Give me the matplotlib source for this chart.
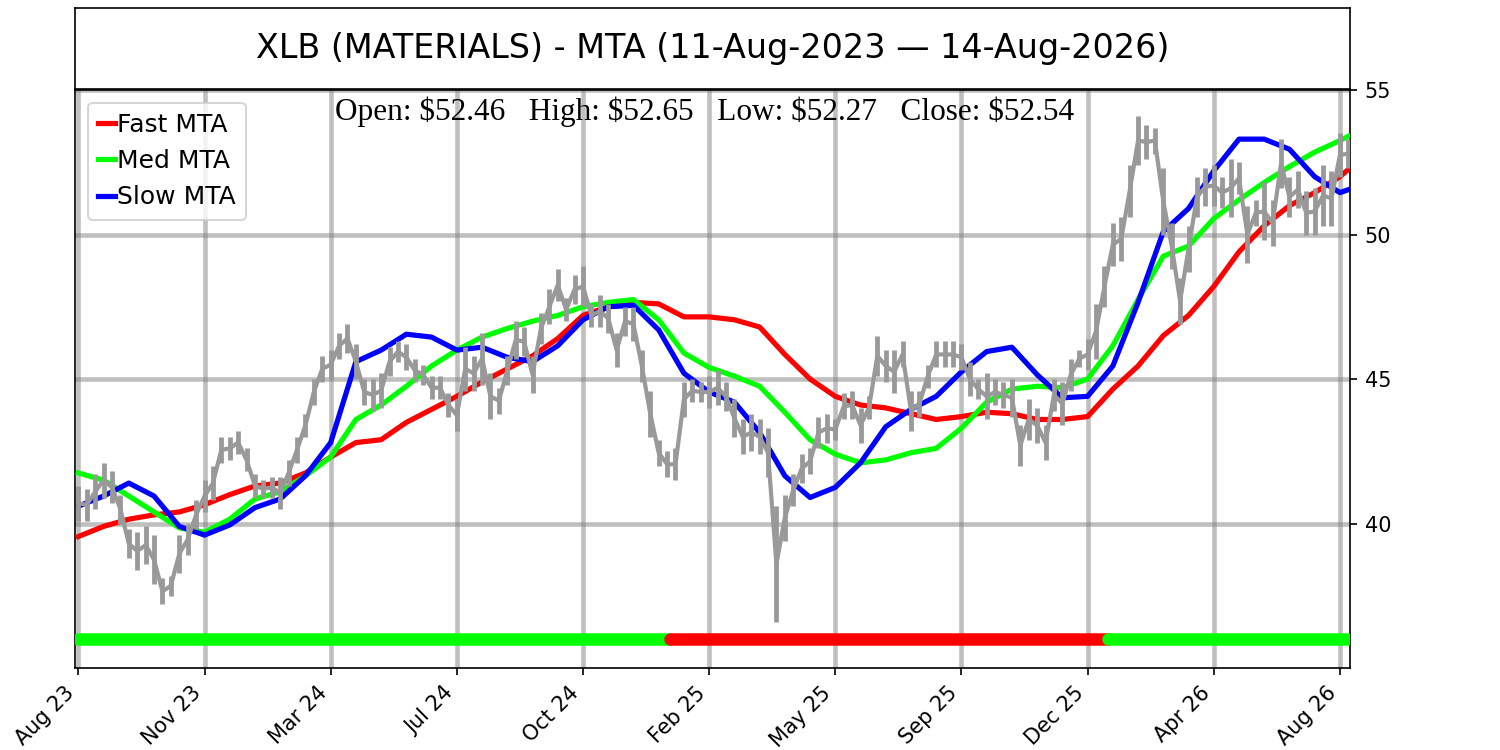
import numpy as np
import matplotlib.pyplot as plt

# weekly high / low of XLB (one value every 5 trading days)
week_high = [41.3, 41.2, 41.7, 42.1, 41.8, 41.0, 39.8, 39.7, 39.9, 39.6,
             38.1, 38.2, 39.6, 40.0, 40.8, 41.5, 42.0, 43.0, 43.0, 43.2,
             42.6, 41.7, 41.5, 41.6, 41.6, 42.2, 43.0, 43.8, 45.0, 45.8,
             46.0, 46.6, 46.9, 46.2, 45.0, 45.0, 45.2, 46.1, 46.3, 46.2,
             45.7, 45.5, 45.1, 45.1, 44.5, 44.3, 46.1, 45.8, 46.6, 45.2,
             44.7, 45.8, 47.0, 46.8, 45.8, 47.3, 48.1, 48.8, 47.8, 48.6,
             48.9, 47.6, 47.9, 47.6, 46.6, 47.5, 47.5, 46.0, 44.6, 42.9,
             42.5, 42.6, 44.9, 45.0, 44.9, 45.1, 45.3, 44.9, 44.3, 43.6,
             43.8, 43.6, 43.3, 40.6, 41.0, 41.7, 42.4, 42.6, 43.7, 43.8,
             43.6, 44.5, 44.6, 44.0, 44.4, 46.5, 46.0, 46.0, 46.3, 44.6,
             44.6, 45.5, 46.3, 46.3, 46.3, 46.2, 45.6, 45.0, 45.2, 45.0,
             44.9, 45.0, 43.4, 44.3, 44.0, 43.4, 45.0, 44.9, 45.7, 46.0,
             46.4, 47.6, 48.9, 50.4, 50.6, 52.4, 54.1, 53.8, 53.7, 52.3,
             50.4, 48.5, 50.3, 52.0, 52.3, 52.4, 52.0, 52.6, 52.5, 51.0,
             51.2, 51.8, 51.2, 53.3, 52.0, 52.2, 51.5, 51.6, 52.4, 52.2,
             53.5, 53.3]
week_low = [40.1, 40.1, 40.5, 40.9, 40.7, 40.0, 38.8, 38.4, 38.6, 37.9,
            37.2, 37.5, 38.3, 38.9, 39.8, 40.4, 40.8, 42.1, 42.2, 42.4,
            41.8, 40.9, 40.9, 40.9, 40.5, 41.3, 42.1, 43.0, 44.1, 44.9,
            45.0, 45.7, 45.9, 45.0, 44.1, 43.9, 44.0, 45.1, 45.6, 45.3,
            44.9, 44.8, 44.3, 44.3, 43.7, 43.2, 44.6, 44.6, 44.8, 43.6,
            43.8, 44.8, 45.7, 45.8, 44.5, 46.2, 46.9, 47.7, 47.0, 47.6,
            47.5, 46.8, 46.8, 46.6, 45.4, 46.5, 46.3, 44.9, 43.0, 42.0,
            41.6, 41.5, 43.7, 44.2, 44.2, 44.0, 44.1, 43.9, 43.0, 42.4,
            42.5, 42.4, 41.6, 36.6, 39.4, 40.6, 41.4, 41.7, 42.6, 42.8,
            42.9, 43.6, 43.6, 42.8, 43.6, 45.1, 44.9, 44.5, 45.4, 43.2,
            43.7, 44.7, 45.4, 45.4, 45.4, 45.3, 44.4, 44.3, 43.6, 44.1,
            44.0, 43.7, 42.0, 42.9, 42.8, 42.2, 43.9, 43.4, 44.6, 45.4,
            45.3, 45.7, 47.5, 48.9, 49.1, 50.6, 52.4, 52.6, 52.8, 50.0,
            48.8, 46.9, 48.7, 50.6, 51.0, 51.0, 50.9, 50.6, 51.4, 49.0,
            50.3, 49.8, 49.6, 51.6, 50.6, 50.9, 50.0, 50.0, 50.3, 50.3,
            52.0, 52.3]

# MTA curves, one value every 15 bars plus the last bar
mta_fast = [39.55, 39.9, 40.15, 40.3, 40.4, 40.65, 41.0, 41.3, 41.4, 41.75,
            42.3, 42.8, 42.9, 43.5, 43.95, 44.4, 44.9, 45.35, 45.8, 46.4,
            47.2, 47.5, 47.65, 47.6, 47.15, 47.15, 47.05, 46.8, 45.85, 45.0,
            44.4, 44.1, 44.0, 43.8, 43.6, 43.7, 43.85, 43.8, 43.6, 43.6,
            43.7, 44.65, 45.45, 46.5, 47.2, 48.2, 49.4, 50.3, 51.0, 51.45,
            52.0, 52.25]
mta_med = [41.75, 41.5, 40.95, 40.4, 39.85, 39.7, 40.15, 40.85, 41.1, 41.65,
           42.3, 43.6, 44.1, 44.75, 45.45, 46.0, 46.45, 46.75, 47.0, 47.2,
           47.5, 47.65, 47.75, 47.05, 45.9, 45.4, 45.1, 44.75, 43.85, 42.9,
           42.4, 42.1, 42.2, 42.45, 42.6, 43.3, 44.2, 44.65, 44.75, 44.7,
           45.0, 46.15, 47.75, 49.25, 49.6, 50.55, 51.2, 51.8, 52.35, 52.85,
           53.25, 53.4]
mta_slow = [40.6, 40.95, 41.4, 40.95, 39.9, 39.6, 39.95, 40.55, 40.85, 41.65,
            42.8, 45.6, 46.0, 46.55, 46.45, 46.0, 46.1, 45.75, 45.6, 46.15,
            47.05, 47.5, 47.55, 46.7, 45.2, 44.55, 44.2, 43.15, 41.65, 40.9,
            41.25, 42.1, 43.35, 43.95, 44.4, 45.25, 45.95, 46.1, 45.15, 44.35,
            44.4, 45.45, 47.65, 50.1, 50.9, 52.2, 53.3, 53.3, 52.95, 52.0,
            51.45, 51.55]

tick_labels = ['Aug 23', 'Nov 23', 'Mar 24', 'Jul 24', 'Oct 24', 'Feb 25',
               'May 25', 'Sep 25', 'Dec 25', 'Apr 26', 'Aug 26']

# trend regime bar (bar index where each regime starts / ends)
regime_bounds = [0, 352, 612, 755]
regime_colors = ['#00ff00', '#ff0000', '#00ff00']

last_open, last_high, last_low, last_close = 52.46, 52.65, 52.27, 52.54

week_bars = np.arange(len(week_high)) * 5
mta_bars = np.r_[np.arange(0, 751, 15), 755]
price_mid = (np.array(week_high) + np.array(week_low)) / 2

fig = plt.figure(figsize=(10, 5), dpi=150)

# title box
ax_t = fig.add_axes([0.05, 0.8813, 0.85, 0.108])
ax_t.set_xticks([])
ax_t.set_yticks([])
ax_t.text(0.5, 0.5, 'XLB (MATERIALS) - MTA (11-Aug-2023 \u2014 14-Aug-2026)',
          ha='center', va='center', fontsize=16)

ax = fig.add_axes([0.05, 0.1093, 0.85, 0.7707])
ax.plot(mta_bars, mta_fast, color='#ff0000', lw=2.5, label='Fast MTA', zorder=3)
ax.plot(mta_bars, mta_med, color='#00ff00', lw=2.5, label='Med MTA', zorder=3)
ax.plot(mta_bars, mta_slow, color='#0000ff', lw=2.5, label='Slow MTA', zorder=3)

ax.vlines(week_bars, week_low, week_high, color='#999999', lw=2.3, zorder=4)
ax.plot(week_bars, price_mid, color='#999999', lw=2, zorder=4)

for i, c in enumerate(regime_colors):
    ax.plot([regime_bounds[i], regime_bounds[i + 1]], [36, 36], color=c,
            lw=6, solid_capstyle='round', zorder=3)

ax.text(0.494, 0.988,
        r'Open: \$%.2f   High: \$%.2f   Low: \$%.2f   Close: \$%.2f'
        % (last_open, last_high, last_low, last_close),
        transform=ax.transAxes, ha='center', va='top', fontsize=15,
        family='Liberation Serif', zorder=6)

ax.set_xlim(-2, 756)
ax.set_ylim(35, 55)
ax.set_xticks(np.arange(0, 751, 75))
ax.set_xticklabels(tick_labels, rotation=45, ha='right')
ax.set_yticks([40, 45, 50, 55])
ax.yaxis.tick_right()
ax.tick_params(labelsize=10)
ax.grid(True, color='gray', alpha=0.5, lw=2.2)
ax.legend(loc='upper left', fontsize=12, handlelength=0.7, handletextpad=0.08)

fig.savefig('out.png', dpi=150)
